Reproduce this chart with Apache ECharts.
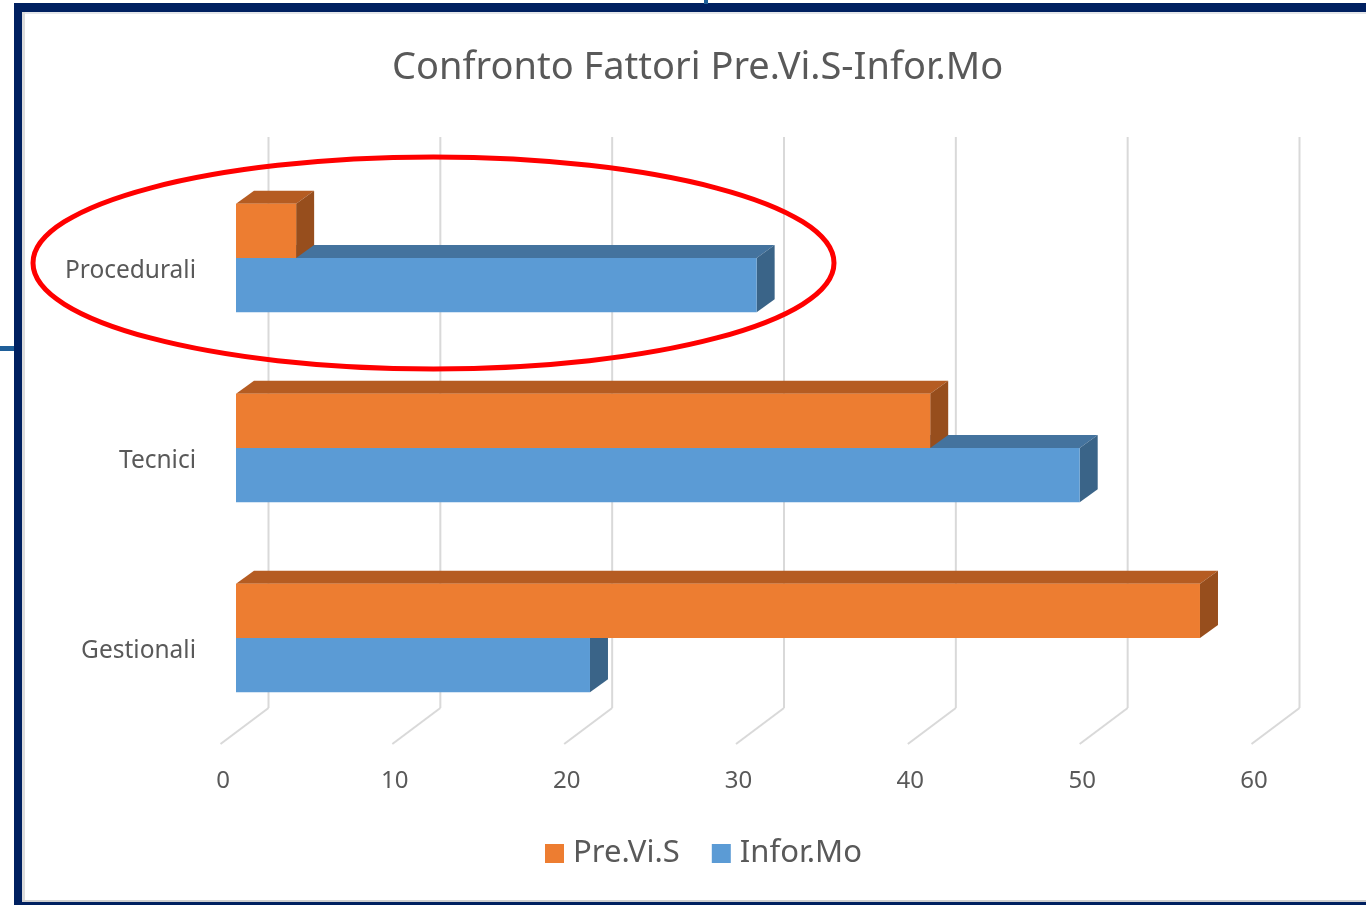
<!DOCTYPE html>
<html>
<head>
<meta charset="utf-8">
<title>Confronto Fattori Pre.Vi.S-Infor.Mo</title>
<script src="https://cdn.jsdelivr.net/npm/echarts@6/dist/echarts.min.js"></script>
<style>
  html, body { margin: 0; padding: 0; background: #ffffff; }
  #chart { width: 1366px; height: 905px; }
</style>
</head>
<body>
<div id="chart"></div>
<script>
// dati
var categories = ['Procedurali', 'Tecnici', 'Gestionali'];
var previsValues = [3.5, 40.4, 56.1];
var informoValues = [30.3, 49.1, 20.6];
var tickValues = [0, 10, 20, 30, 40, 50, 60];

var FONT = '"Noto Sans", "Open Sans", sans-serif';
var DX = 18, DY = 13; // profondita' finta delle barre 3D

// barra "3D": faccia frontale + top + lato
function bar3d(colors, upper) {
  return function (params, api) {
    var val = api.value(0);
    var cat = api.value(1);
    var p0 = api.coord([0, cat]);
    var p1 = api.coord([val, cat]);
    var h = api.size([0, 1])[1] * 0.286;
    var y0 = upper ? p0[1] - h : p0[1];
    var x0 = p0[0], x1 = p1[0];
    return {
      type: 'group',
      children: [
        {
          type: 'polygon',
          shape: { points: [[x0, y0], [x0 + DX, y0 - DY], [x1 + DX, y0 - DY], [x1, y0]] },
          style: { fill: colors[1] }
        },
        {
          type: 'polygon',
          shape: { points: [[x1, y0], [x1 + DX, y0 - DY], [x1 + DX, y0 + h - DY], [x1, y0 + h]] },
          style: { fill: colors[2] }
        },
        {
          type: 'rect',
          shape: { x: x0, y: y0, width: x1 - x0, height: h },
          style: { fill: colors[0] }
        }
      ]
    };
  };
}

// griglia: linee verticali sul fondo + diagonali sul pavimento
function gridLines(params, api) {
  var cs = params.coordSys;
  var x = api.coord([api.value(0), 0])[0];
  var bottom = cs.y + cs.height;
  var st = { stroke: '#d9d9d9', lineWidth: 2 };
  return {
    type: 'group',
    children: [
      { type: 'line', shape: { x1: x + 32.5, y1: cs.y - 26, x2: x + 32.5, y2: bottom - 25 }, style: st },
      { type: 'line', shape: { x1: x + 32.5, y1: bottom - 25, x2: x - 15.5, y2: bottom + 11 }, style: st }
    ]
  };
}

var chart = echarts.init(document.getElementById('chart'));

var option = {
  backgroundColor: '#ffffff',
  animation: false,
  title: {
    text: 'Confronto Fattori Pre.Vi.S-Infor.Mo',
    left: 392,
    top: 49,
    padding: 0,
    textStyle: { fontFamily: FONT, fontSize: 38, fontWeight: 'normal', color: '#595959' }
  },
  legend: {
    left: 545,
    top: 838,
    padding: 0,
    itemWidth: 19,
    itemHeight: 19,
    itemGap: 32,
    icon: 'rect',
    data: ['Pre.Vi.S', 'Infor.Mo'],
    textStyle: { fontFamily: FONT, fontSize: 31, color: '#595959', padding: [0, 0, 0, 4] }
  },
  grid: {
    left: 236,
    top: 163,
    width: 1031,
    height: 570,
    outerBoundsMode: 'none'
  },
  xAxis: {
    type: 'value',
    min: 0,
    max: 60,
    interval: 10,
    axisLine: { show: false },
    axisTick: { show: false },
    splitLine: { show: false },
    axisLabel: {
      margin: 36,
      padding: [0, 26, 0, 0],
      fontFamily: FONT,
      fontSize: 24,
      color: '#595959'
    }
  },
  yAxis: {
    type: 'category',
    inverse: true,
    data: categories,
    axisLine: { show: false },
    axisTick: { show: false },
    axisLabel: {
      margin: 40,
      verticalAlign: 'top',
      lineHeight: 26,
      fontFamily: FONT,
      fontSize: 24.5,
      color: '#595959'
    }
  },
  series: [
    {
      name: 'griglia',
      type: 'custom',
      silent: true,
      z: 1,
      renderItem: gridLines,
      data: tickValues.map(function (t) { return [t]; })
    },
    {
      name: 'Infor.Mo',
      type: 'custom',
      z: 2,
      itemStyle: { color: '#5b9bd5' },
      renderItem: bar3d(['#5b9bd5', '#44739e', '#3a6488'], false),
      encode: { x: 0, y: 1 },
      data: informoValues.map(function (v, i) { return [v, i]; })
    },
    {
      name: 'Pre.Vi.S',
      type: 'custom',
      z: 3,
      itemStyle: { color: '#ed7d31' },
      renderItem: bar3d(['#ed7d31', '#b55c22', '#974e1d'], true),
      encode: { x: 0, y: 1 },
      data: previsValues.map(function (v, i) { return [v, i]; })
    }
  ],
  graphic: [
    // cornice della slide
    { type: 'rect', z: 100, shape: { x: 14, y: 3, width: 1352, height: 9 }, style: { fill: '#002060' } },
    { type: 'rect', z: 100, shape: { x: 14, y: 3, width: 8, height: 902 }, style: { fill: '#002060' } },
    { type: 'rect', z: 100, shape: { x: 22, y: 12, width: 1344, height: 2 }, style: { fill: '#e4e6ea' } },
    { type: 'rect', z: 100, shape: { x: 22, y: 12, width: 3, height: 890 }, style: { fill: '#dcdcdc' } },
    { type: 'rect', z: 100, shape: { x: 22, y: 900, width: 1344, height: 2 }, style: { fill: '#cfcfcf' } },
    { type: 'rect', z: 100, shape: { x: 14, y: 902, width: 1352, height: 3 }, style: { fill: '#002060' } },
    { type: 'rect', z: 100, shape: { x: 704, y: 0, width: 4, height: 4 }, style: { fill: '#1f5f99' } },
    { type: 'rect', z: 100, shape: { x: 0, y: 346, width: 14, height: 5 }, style: { fill: '#1f5f99' } },
    // ellisse rossa attorno a Procedurali
    {
      type: 'ellipse',
      z: 100,
      shape: { cx: 433.5, cy: 263, rx: 400.5, ry: 106 },
      style: { fill: 'none', stroke: '#ff0000', lineWidth: 5 }
    }
  ]
};

chart.setOption(option);
</script>
</body>
</html>
